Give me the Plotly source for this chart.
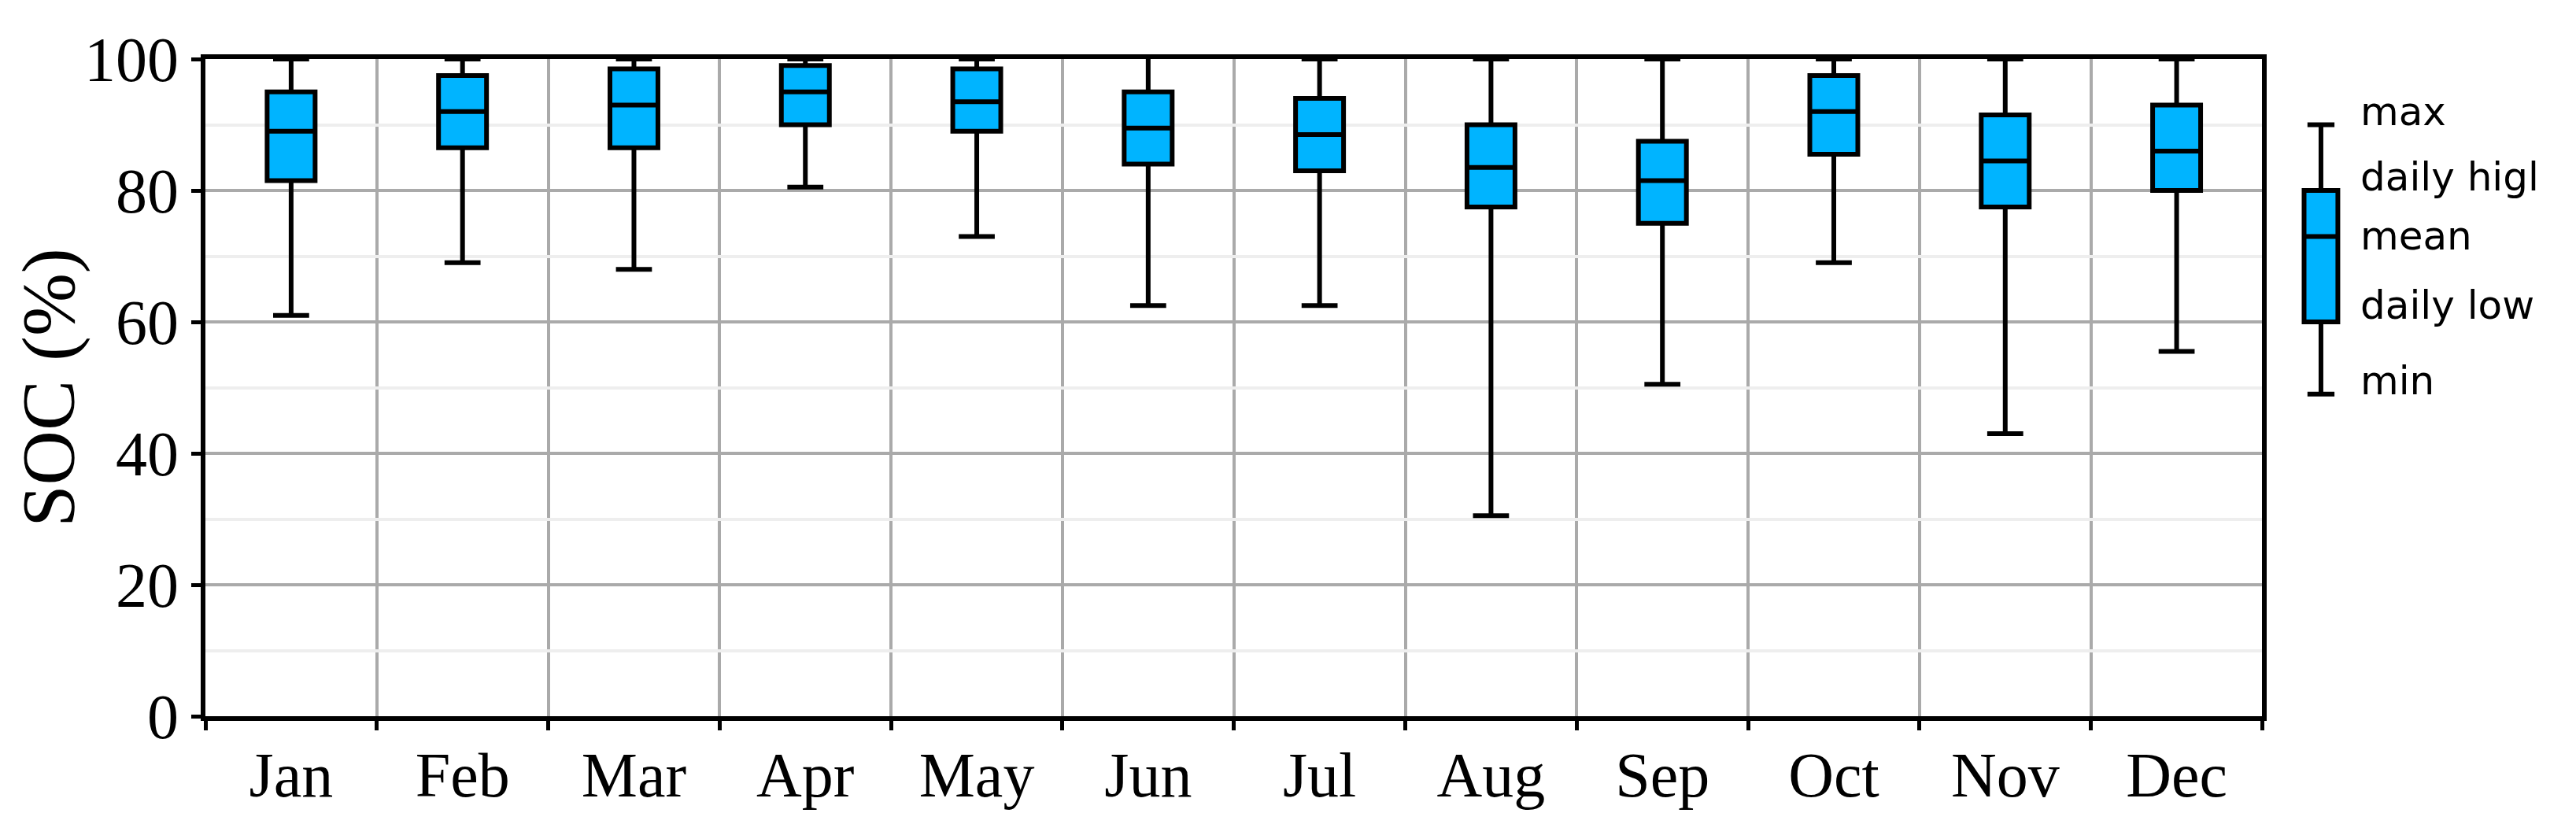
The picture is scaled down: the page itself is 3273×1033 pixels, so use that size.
import plotly.graph_objects as go

months = ["Jan", "Feb", "Mar", "Apr", "May", "Jun", "Jul", "Aug", "Sep", "Oct", "Nov", "Dec"]
soc_max = [100, 100, 100, 100, 100, 100.5, 100, 100, 100, 100, 100, 100]
daily_high = [95, 97.5, 98.5, 99, 98.5, 95, 94, 90, 87.5, 97.5, 91.5, 93]
soc_mean = [89, 92, 93, 95, 93.5, 89.5, 88.5, 83.5, 81.5, 92, 84.5, 86]
daily_low = [81.5, 86.5, 86.5, 90, 89, 84, 83, 77.5, 75, 85.5, 77.5, 80]
soc_min = [61, 69, 68, 80.5, 73, 62.5, 62.5, 30.5, 50.5, 69, 43, 55.5]

# legend glyph values
legend_vals = [90, 80, 73, 60, 49]
legend_labels = ["max", "daily higl", "mean", "daily low", "min"]
legend_label_y = [92, 82, 73, 62.5, 51]

fill = "#00B4FF"
xs = list(range(len(months)))

fig = go.Figure()
fig.add_trace(go.Box(
    x=xs, q1=daily_low, median=soc_mean, q3=daily_high,
    lowerfence=soc_min, upperfence=soc_max,
    fillcolor=fill, line=dict(color="black", width=6),
    width=0.28, whiskerwidth=0.75, showlegend=False, hoverinfo="skip"))
fig.add_trace(go.Box(
    x=[0], q1=[legend_vals[3]], median=[legend_vals[2]], q3=[legend_vals[1]],
    lowerfence=[legend_vals[4]], upperfence=[legend_vals[0]],
    fillcolor=fill, line=dict(color="black", width=6),
    width=0.6, whiskerwidth=0.8, showlegend=False, hoverinfo="skip",
    xaxis="x2", yaxis="y2"))

for lab, ly in zip(legend_labels, legend_label_y):
    fig.add_annotation(x=0.918, xref="paper", y=ly, yref="y2", text=lab,
                       showarrow=False, xanchor="left",
                       font=dict(family="DejaVu Sans", size=50, color="black"))

fig.update_layout(
    width=3273, height=1033,
    margin=dict(l=251, r=40, t=67, b=130),
    plot_bgcolor="white", paper_bgcolor="white",
    font=dict(family="Liberation Serif", size=80, color="black"),
    xaxis=dict(
        domain=[0, 0.877],
        range=[-0.5, 11.5], tickvals=xs, ticktext=months, ticks="",
        showgrid=False, zeroline=False,
        showline=True, linecolor="black", linewidth=6, mirror=True,
        minor=dict(tick0=0.5, dtick=1, showgrid=True, gridcolor="#aaaaaa",
                   gridwidth=4, ticks="outside", ticklen=12, tickwidth=5,
                   tickcolor="black"),
    ),
    xaxis2=dict(domain=[0.89, 0.914], range=[-0.5, 0.5], anchor="y2",
                visible=False),
    yaxis2=dict(range=[0, 100], anchor="x2", overlaying="y", visible=False,
                showgrid=False),
    yaxis=dict(
        range=[0, 100], tickvals=[0, 20, 40, 60, 80, 100],
        title=dict(text="SOC (%)", standoff=20),
        showgrid=True, gridcolor="#aaaaaa", gridwidth=4, zeroline=False,
        showline=True, linecolor="black", linewidth=6, mirror=True,
        ticks="outside", ticklen=12, tickwidth=5, tickcolor="black",
        minor=dict(dtick=10, showgrid=True, gridcolor="#eeeeee", gridwidth=4),
    ),
)

fig.write_html("out.html")
